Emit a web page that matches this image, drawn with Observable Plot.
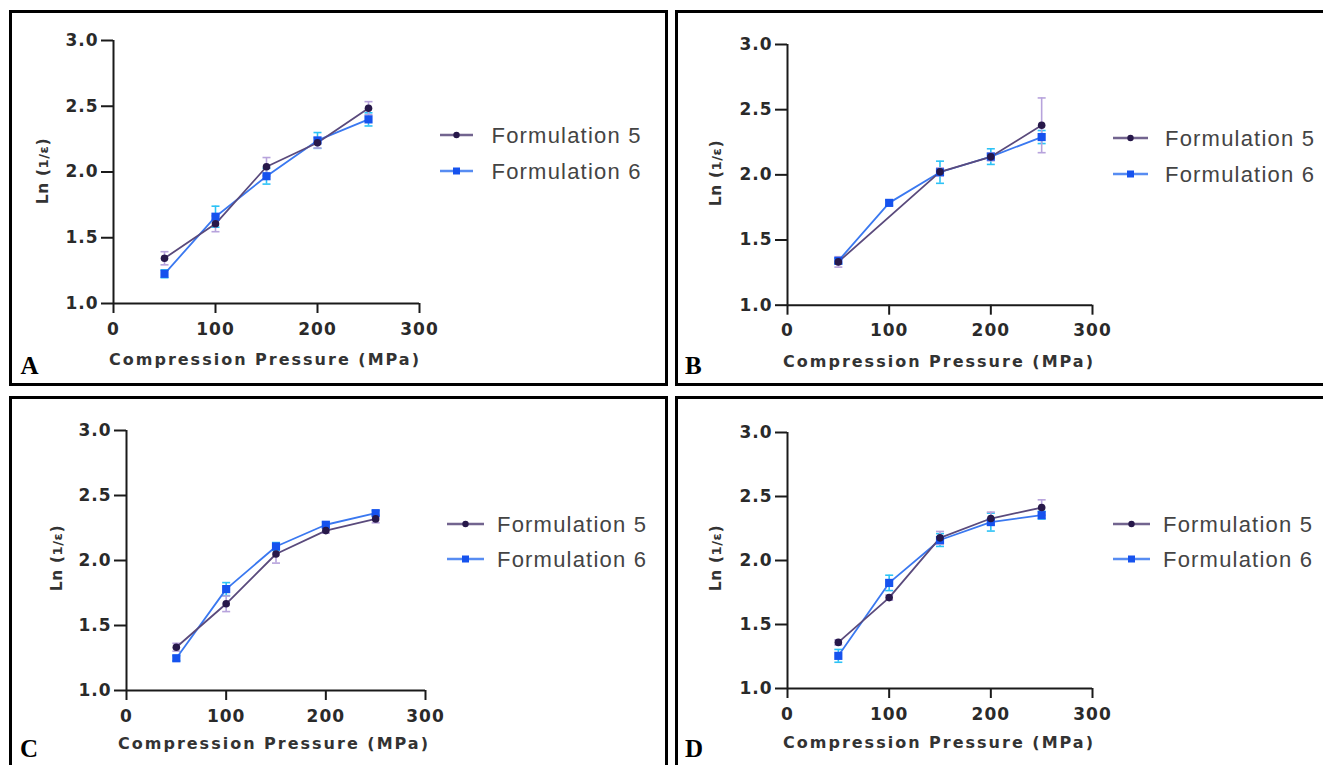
<!DOCTYPE html>
<html>
<head>
<meta charset="utf-8">
<script src="https://cdn.jsdelivr.net/npm/d3@7"></script>
<script src="https://cdn.jsdelivr.net/npm/@observablehq/plot@0.6"></script>
<style>
html,body{margin:0;padding:0;background:#fff;width:1323px;height:765px;overflow:hidden;position:relative;}
.box{position:absolute;box-sizing:border-box;border:3px solid #000;}
svg.plot{position:absolute;}
#overlay{position:absolute;left:0;top:0;pointer-events:none;}
</style>
</head>
<body>
<script>
// ---- data ----
const pressure = [50, 100, 150, 200, 250];
const xTicks = [0, 100, 200, 300];
const yTicks = [1.0, 1.5, 2.0, 2.5, 3.0];
const seriesNames = ["Formulation 5", "Formulation 6"];
const xLabel = "Compression Pressure (MPa)";
const panelLetters = ["A", "B", "C", "D"];

// Panel A
const a_f5 = [1.344, 1.606, 2.040, 2.222, 2.485];
const a_f5_err = [0.05, 0.06, 0.07, 0.04, 0.05];
const a_f6 = [1.226, 1.660, 1.968, 2.240, 2.400];
const a_f6_err = [0.03, 0.08, 0.06, 0.06, 0.05];
// Panel B (Formulation 5 at 100 MPa not shown)
const b_f5 = [1.332, null, 2.023, 2.138, 2.380];
const b_f5_err = [0.04, 0, 0.03, 0.03, 0.21];
const b_f6 = [1.340, 1.785, 2.020, 2.140, 2.290];
const b_f6_err = [0.02, 0.02, 0.085, 0.06, 0.05];
// Panel C
const c_f5 = [1.333, 1.667, 2.050, 2.230, 2.320];
const c_f5_err = [0.03, 0.06, 0.07, 0.02, 0.03];
const c_f6 = [1.248, 1.780, 2.108, 2.275, 2.364];
const c_f6_err = [0.02, 0.05, 0.03, 0.02, 0.02];
// Panel D
const d_f5 = [1.360, 1.710, 2.177, 2.328, 2.414];
const d_f5_err = [0.02, 0.02, 0.05, 0.05, 0.06];
const d_f6 = [1.255, 1.825, 2.160, 2.300, 2.354];
const d_f6_err = [0.05, 0.06, 0.05, 0.07, 0.03];

// ---- styles ----
const C5 = {line: "#5a4a7c", mark: "#27184a", err: "#b7a3dc"};
const C6 = {line: "#3a78f0", mark: "#1652ee", err: "#2cc2f6"};

const capSymbol = {
  draw(ctx, size) {
    const r = Math.sqrt(size / Math.PI);
    ctx.moveTo(-r, 0);
    ctx.lineTo(r, 0);
  }
};

// page layout for each panel (pixel positions of axis extremes)
const layouts = [
  {x0: 113, x300: 419, y3: 40, y1: 303},
  {x0: 786.7, x300: 1091.7, y3: 44.3, y1: 305},
  {x0: 126, x300: 425, y3: 430, y1: 690},
  {x0: 786.7, x300: 1091.7, y3: 432.3, y1: 688.3}
];
const panelData = [
  [a_f5, a_f5_err, a_f6, a_f6_err],
  [b_f5, b_f5_err, b_f6, b_f6_err],
  [c_f5, c_f5_err, c_f6, c_f6_err],
  [d_f5, d_f5_err, d_f6, d_f6_err]
];

// boxes
const boxes = [
  {l: 9, t: 10, w: 659, h: 376},
  {l: 675, t: 10, w: 700, h: 376},
  {l: 9, t: 396, w: 659, h: 420},
  {l: 675, t: 396, w: 700, h: 420}
];
boxes.forEach(b => {
  const d = document.createElement("div");
  d.className = "box";
  Object.assign(d.style, {left: b.l + "px", top: b.t + "px", width: b.w + "px", height: b.h + "px"});
  document.body.appendChild(d);
});

function rows(vals, errs) {
  return pressure.map((p, i) => ({p, v: vals[i], e: errs[i]})).filter(d => d.v != null);
}

function errMarks(s, c) {
  return [
    Plot.ruleX(s, {x: "p", y1: d => d.v - d.e, y2: d => d.v + d.e, stroke: c.err, strokeWidth: 1.6}),
    Plot.dot(s, {x: "p", y: d => d.v + d.e, symbol: capSymbol, r: 4, stroke: c.err, strokeWidth: 1.6}),
    Plot.dot(s, {x: "p", y: d => d.v - d.e, symbol: capSymbol, r: 4, stroke: c.err, strokeWidth: 1.6})
  ];
}

layouts.forEach((L, k) => {
  const [f5, f5e, f6, f6e] = panelData[k];
  const s5 = rows(f5, f5e), s6 = rows(f6, f6e);
  const ml = 90, mr = 20, mt = 10, mb = 45;
  const w = L.x300 - L.x0, h = L.y1 - L.y3;
  const chart = Plot.plot({
    width: w + ml + mr,
    height: h + mt + mb,
    marginLeft: ml, marginRight: mr, marginTop: mt, marginBottom: mb,
    x: {domain: [0, 300]},
    y: {domain: [1, 3]},
    style: {background: "transparent", overflow: "visible", fontFamily: "DejaVu Sans", fontWeight: "bold", fontSize: "17px", letterSpacing: "1px", color: "#2a2a2a"},
    marks: [
      Plot.axisY({ticks: yTicks, tickSize: 12, tickPadding: 3, tickFormat: d3.format(".1f"), label: null, strokeWidth: 2, stroke: "#1a1a1a"}),
      Plot.axisX({ticks: xTicks, tickSize: 10, tickPadding: 9, label: null, strokeWidth: 2, stroke: "#1a1a1a"}),
      Plot.ruleY([1], {x1: 0, x2: 300, stroke: "#1a1a1a", strokeWidth: 2}),
      Plot.ruleX([0], {y1: 1, y2: 3, stroke: "#1a1a1a", strokeWidth: 2}),
      ...errMarks(s6, C6),
      ...errMarks(s5, C5),
      Plot.line(s6, {x: "p", y: "v", stroke: C6.line, strokeWidth: 1.8}),
      Plot.line(s5, {x: "p", y: "v", stroke: C5.line, strokeWidth: 1.8}),
      Plot.dot(s6, {x: "p", y: "v", symbol: "square", r: 4.6, fill: C6.mark}),
      Plot.dot(s5, {x: "p", y: "v", symbol: "circle", r: 3.8, fill: C5.mark})
    ]
  });
  chart.classList.add("plot");
  chart.style.position = "absolute";
  chart.style.left = (L.x0 - ml) + "px";
  chart.style.top = (L.y3 - mt) + "px";
  document.body.appendChild(chart);
});

// ---- overlay text: titles, letters, legends ----
const xTitlePos = [[265, 359], [939, 361], [274, 743], [939, 742]];
const yTitlePos = [[42.5, 171], [716, 173], [57, 558], [716, 558]];
const letterPos = [[20.5, 373.5], [685, 373.5], [20, 757], [685, 757]];
const legendPos = [
  {lx1: 440, lx2: 473, tx: 491.5, y: [135, 171]},
  {lx1: 1113, lx2: 1148, tx: 1165, y: [138, 174]},
  {lx1: 447, lx2: 484, tx: 497, y: [524, 559]},
  {lx1: 1113, lx2: 1150, tx: 1163, y: [524, 559]}
];
const legendColors = [C5, C6];

const NS = "http://www.w3.org/2000/svg";
const ov = document.createElementNS(NS, "svg");
ov.setAttribute("id", "overlay");
ov.setAttribute("width", 1323);
ov.setAttribute("height", 765);
function el(tag, attrs, text) {
  const e = document.createElementNS(NS, tag);
  for (const k in attrs) e.setAttribute(k, attrs[k]);
  if (text != null) e.textContent = text;
  ov.appendChild(e);
  return e;
}
for (let k = 0; k < 4; k++) {
  const [xx, xy] = xTitlePos[k];
  el("text", {x: xx, y: xy, "text-anchor": "middle", "dominant-baseline": "central",
    "font-family": "DejaVu Sans", "font-weight": "bold", "font-size": 16, "letter-spacing": "2px", fill: "#333"}, xLabel);
  const [yx, yy] = yTitlePos[k];
  const t = el("text", {transform: `translate(${yx},${yy}) rotate(-90)`, "text-anchor": "middle", "dominant-baseline": "central",
    "font-family": "DejaVu Sans", "font-weight": "bold", "font-size": 15.5, "letter-spacing": "0.6px", fill: "#333"});
  t.appendChild(document.createTextNode("Ln ("));
  const ts = document.createElementNS(NS, "tspan");
  ts.setAttribute("font-size", 13);
  ts.textContent = "1/ε";
  t.appendChild(ts);
  t.appendChild(document.createTextNode(")"));
  const [lx, ly] = letterPos[k];
  el("text", {x: lx, y: ly, "font-family": "Liberation Serif", "font-weight": "bold", "font-size": 25, fill: "#000"}, panelLetters[k]);
  const lg = legendPos[k];
  seriesNames.forEach((name, i) => {
    const y = lg.y[i], c = legendColors[i];
    el("line", {x1: lg.lx1, x2: lg.lx2, y1: y, y2: y, stroke: c.line, "stroke-width": 2.5, opacity: 0.85});
    const mx = (lg.lx1 + lg.lx2) / 2;
    if (i === 0) el("circle", {cx: mx, cy: y, r: 3.2, fill: c.mark});
    else el("rect", {x: mx - 3.5, y: y - 3.5, width: 7, height: 7, fill: c.mark});
    el("text", {x: lg.tx, y: y, "dominant-baseline": "central", "font-family": "Liberation Sans", "font-size": 22, "letter-spacing": "1.2px", fill: "#444"}, name);
  });
}
document.body.appendChild(ov);
</script>
</body>
</html>
